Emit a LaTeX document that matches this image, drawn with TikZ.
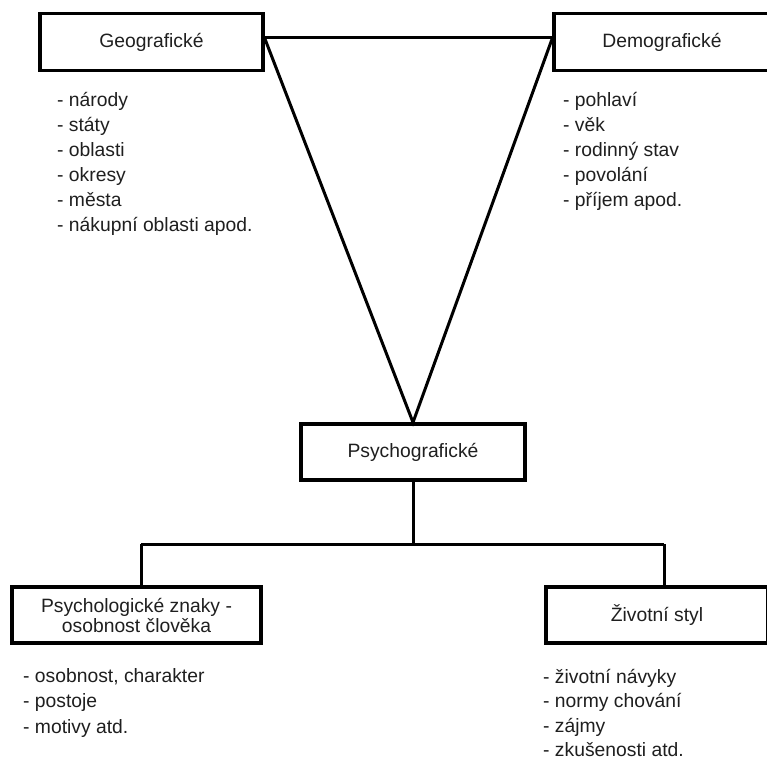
\documentclass[tikz,border=0pt]{standalone}
\usepackage{fontspec}
\setmainfont{Liberation Sans}
\begin{document}
\begin{tikzpicture}[x=1pt,y=-1pt,
  box/.style={draw=black, line width=3.2pt, fill=white, inner sep=0pt,
    minimum height=57pt, text=black!88, font=\fontsize{19.3}{20}\selectfont, align=center},
  conn/.style={line width=3pt, line join=miter},
  item/.style={anchor=base west, inner sep=0pt, text=black!88, font=\fontsize{19.3}{25}\selectfont}]
\clip (0,0) rectangle (767,760);
\fill[white] (0,0) rectangle (767,760);
% boxes
\node[box, minimum width=223pt] (geo) at (151.5,42) {Geografické};
\node[box, minimum width=216pt] (dem) at (662,42) {Demografické};
\node[box, minimum width=224pt, minimum height=56pt] (psy) at (413,452) {Psychografické};
\node[box, minimum width=249pt, minimum height=56pt] (psl) at (136.5,615) {Psychologické znaky -\\osobnost člověka};
\node[box, minimum width=222pt, minimum height=56pt] (ziv) at (657,615) {Životní styl};
% connectors
\draw[conn] ([yshift=4pt]geo.east) -- ([yshift=4pt]dem.west);
\draw[conn] ([yshift=4pt]geo.east) -- (psy.north) -- ([yshift=4pt]dem.west);
\coordinate (jl) at (141,544);
\coordinate (jr) at (664,544);
\draw[conn] (psy.south) -- (psy.south |- jl);
\draw[conn] (jl) -- (jr);
\draw[conn] (jl) -- (jl |- psl.north);
\draw[conn] (jr) -- (jr |- ziv.north);
% lists
\foreach \t [count=\i] in {národy, státy, oblasti, okresy, města, nákupní oblasti apod.}
  \node[item] (g\i) at (57,{106+25*(\i-1)}) {- \t};
\foreach \t [count=\i] in {pohlaví, věk, rodinný stav, povolání, příjem apod.}
  \node[item] (d\i) at (563,{106+25*(\i-1)}) {- \t};
\foreach \t [count=\i] in {{osobnost, charakter}, postoje, motivy atd.}
  \node[item] (p\i) at (23,{682+25.5*(\i-1)}) {- \t};
\foreach \t [count=\i] in {životní návyky, normy chování, zájmy, zkušenosti atd.}
  \node[item] (z\i) at (543,{683+24.5*(\i-1)}) {- \t};
\end{tikzpicture}
\end{document}
